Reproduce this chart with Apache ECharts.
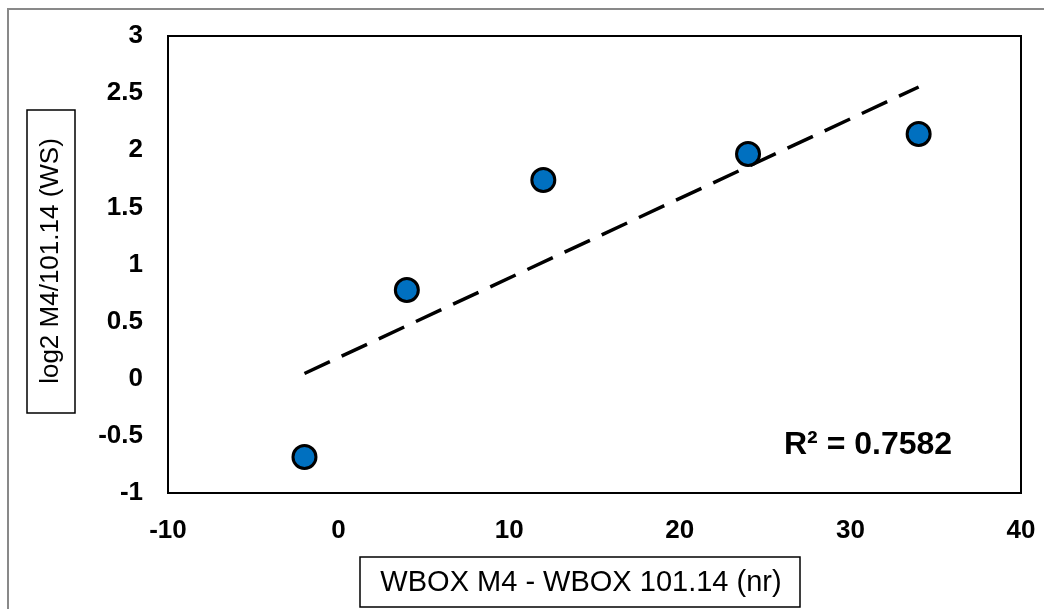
<!DOCTYPE html>
<html>
<head>
<meta charset="utf-8">
<script src="https://cdn.jsdelivr.net/npm/echarts@6/dist/echarts.min.js"></script>
<style>
html,body{margin:0;padding:0;background:#fff;}
#chart{width:1044px;height:609px;}
</style>
</head>
<body>
<div id="chart"></div>
<script>
// Data
const xValues = [-2, 4, 12, 24, 34];
const yValues = [-0.685, 0.777, 1.74, 1.967, 2.142];
const xAxisTitle = 'WBOX M4 - WBOX 101.14 (nr)';
const yAxisTitle = 'log2 M4/101.14 (WS)';
const r2Label = 'R² = 0.7582';

// Linear trendline (least squares) from the data
const n = xValues.length;
const mx = xValues.reduce((a, b) => a + b, 0) / n;
const my = yValues.reduce((a, b) => a + b, 0) / n;
let sxy = 0, sxx = 0;
for (let i = 0; i < n; i++) { sxy += (xValues[i] - mx) * (yValues[i] - my); sxx += (xValues[i] - mx) ** 2; }
const slope = sxy / sxx, intercept = my - slope * mx;
const xMin = Math.min(...xValues), xMax = Math.max(...xValues);
const trend = [[xMin, intercept + slope * xMin], [xMax, intercept + slope * xMax]];

const chart = echarts.init(document.getElementById('chart'), null, {renderer: 'canvas'});
const font = 'Liberation Sans, Arial, sans-serif';
chart.setOption({
  animation: false,
  backgroundColor: '#fff',
  grid: {left: 168, top: 36, right: 23, bottom: 116, show: true, borderColor: '#000', borderWidth: 2, backgroundColor: 'transparent'},
  xAxis: {
    type: 'value', min: -10, max: 40, interval: 10,
    axisLine: {show: true, onZero: false, lineStyle: {color: '#000', width: 2}},
    axisTick: {show: false}, splitLine: {show: false},
    axisLabel: {color: '#000', fontFamily: font, fontWeight: 'bold', fontSize: 26, margin: 25}
  },
  yAxis: {
    type: 'value', min: -1, max: 3, interval: 0.5,
    axisLine: {show: true, onZero: false, lineStyle: {color: '#000', width: 2}},
    axisTick: {show: false}, splitLine: {show: false},
    axisLabel: {color: '#000', fontFamily: font, fontWeight: 'bold', fontSize: 26, margin: 25}
  },
  series: [
    {
      type: 'line', data: trend, symbol: 'none', silent: true,
      lineStyle: {color: '#000', width: 3.5, type: [28, 13], cap: 'butt'}, z: 2
    },
    {
      type: 'scatter', data: xValues.map((x, i) => [x, yValues[i]]),
      symbol: 'circle', symbolSize: 23,
      itemStyle: {color: '#0070C0', borderColor: '#000', borderWidth: 3, opacity: 1}, z: 3
    }
  ],
  graphic: [
    {type: 'rect', shape: {x: 8, y: 9, width: 1100, height: 700}, style: {fill: 'none', stroke: '#898989', lineWidth: 2}, silent: true},
    {type: 'rect', shape: {x: 27, y: 110, width: 48, height: 303}, style: {fill: '#fff', stroke: '#000', lineWidth: 1.5}},
    {type: 'text', x: 51, y: 261, rotation: Math.PI / 2,
      style: {text: yAxisTitle, fill: '#000', font: '26px ' + font, textAlign: 'center', textVerticalAlign: 'middle'}},
    {type: 'rect', shape: {x: 360, y: 557, width: 440, height: 50}, style: {fill: '#fff', stroke: '#000', lineWidth: 1.5}},
    {type: 'text', x: 581, y: 583,
      style: {text: xAxisTitle, fill: '#000', font: '29px ' + font, textAlign: 'center', textVerticalAlign: 'middle'}},
    {type: 'text', x: 784, y: 445,
      style: {text: r2Label, fill: '#000', font: 'bold 32px ' + font, textAlign: 'left', textVerticalAlign: 'middle'}}
  ]
});
</script>
</body>
</html>
